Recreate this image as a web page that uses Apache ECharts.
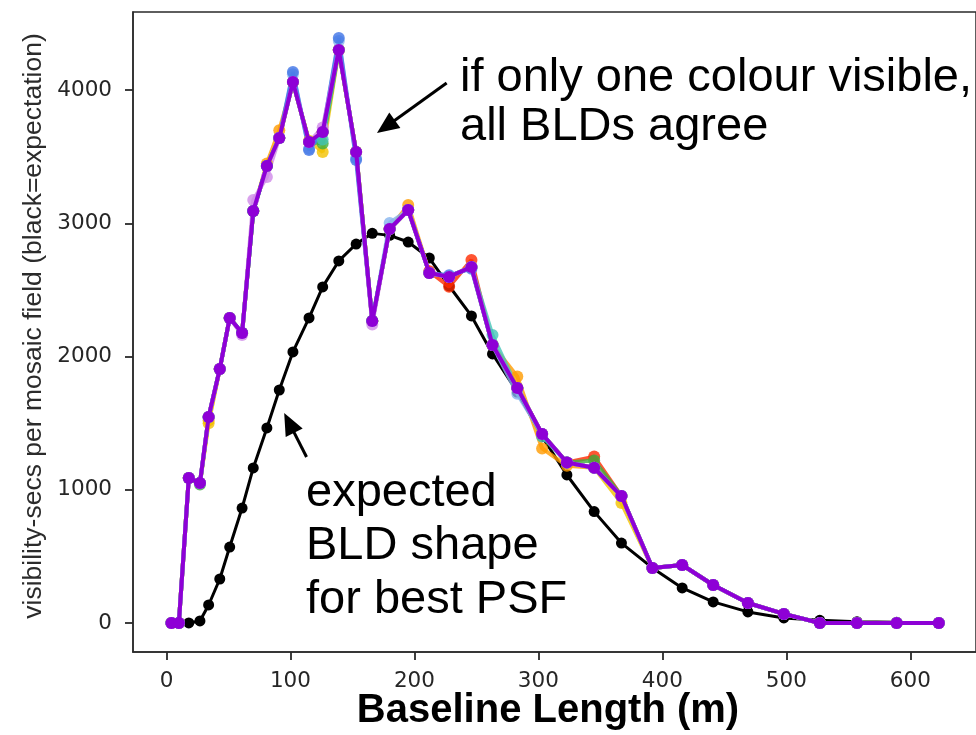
<!DOCTYPE html>
<html>
<head>
<meta charset="utf-8">
<script src="https://cdn.jsdelivr.net/npm/echarts@6/dist/echarts.min.js"></script>
<style>
  html, body { margin: 0; padding: 0; background: #ffffff; }
  #chart { width: 976px; height: 735px; }
</style>
</head>
<body>
<div id="chart"></div>
<script>
// Baseline-length bin centres (m)
const baselines = [4, 10, 18, 27, 34, 43, 51, 61, 70, 81, 91, 102, 115, 126, 139, 153, 166, 180, 195, 212,
  228, 246, 263, 283, 303, 323, 345, 367, 392, 416, 441, 469, 498, 527, 557, 589, 623];

// Expected baseline-length distribution for the best PSF
const expected = [0, 0, 0, 15, 135, 330, 570, 863, 1164, 1464, 1749, 2035, 2290, 2523, 2718, 2845, 2925, 2910, 2860, 2740,
  2530, 2305, 2020, 1734, 1400, 1111, 836, 600, 413, 263, 158, 83, 38, 20, 10, 5, 0];

// Measured distributions, one per BLD
const bldRed = [0, 0, 1089, 1051, 1547, 1907, 2290, 2177, 3093, 3431, 3641, 4062, 3611, 3686, 4302, 3536, 2267, 2958, 3100, 2640,
  2525, 2725, 2087, 1764, 1419, 1205, 1249, 953, 413, 435, 285, 150, 68, 0, 0, 0, 0];
const bldOrange = [0, 0, 1089, 1051, 1520, 1907, 2290, 2177, 3093, 3450, 3700, 4062, 3611, 3686, 4302, 3536, 2267, 2958, 3138, 2628,
  2598, 2673, 2087, 1850, 1310, 1180, 1165, 953, 413, 435, 285, 150, 68, 0, 0, 0, 0];
const bldGold = [0, 0, 1089, 1051, 1500, 1907, 2290, 2177, 3093, 3431, 3641, 4062, 3620, 3536, 4302, 3536, 2267, 2958, 3100, 2628,
  2598, 2673, 2087, 1764, 1419, 1205, 1165, 900, 413, 435, 285, 150, 68, 0, 0, 0, 0];
const bldGreen = [0, 0, 1089, 1040, 1547, 1907, 2290, 2177, 3093, 3431, 3641, 4062, 3611, 3600, 4302, 3536, 2267, 2958, 3100, 2628,
  2600, 2673, 2087, 1764, 1419, 1205, 1220, 953, 413, 435, 285, 150, 68, 0, 0, 0, 0];
const bldTeal = [0, 0, 1089, 1051, 1547, 1907, 2290, 2177, 3093, 3431, 3641, 4062, 3611, 3630, 4302, 3536, 2267, 2958, 3100, 2628,
  2598, 2673, 2162, 1764, 1400, 1205, 1165, 953, 413, 435, 285, 150, 68, 0, 0, 0, 0];
const bldLightBlue = [0, 0, 1089, 1051, 1547, 1907, 2290, 2177, 3093, 3431, 3641, 4120, 3560, 3686, 4370, 3490, 2267, 3003, 3100, 2628,
  2598, 2673, 2087, 1720, 1419, 1205, 1165, 953, 413, 435, 285, 150, 68, 0, 0, 0, 0];
const bldBlue = [0, 0, 1089, 1051, 1547, 1907, 2290, 2177, 3093, 3431, 3641, 4137, 3551, 3686, 4392, 3476, 2267, 2958, 3100, 2628,
  2610, 2660, 2087, 1764, 1419, 1205, 1165, 953, 413, 435, 285, 150, 68, 0, 0, 0, 0];
const bldViolet = [0, 0, 1089, 1051, 1547, 1907, 2290, 2162, 3175, 3348, 3641, 4062, 3611, 3720, 4302, 3536, 2240, 2958, 3100, 2628,
  2598, 2673, 2087, 1764, 1419, 1205, 1165, 953, 413, 435, 285, 150, 68, 0, 0, 0, 0];
const bldPurple = [0, 0, 1089, 1051, 1547, 1907, 2290, 2177, 3093, 3431, 3641, 4062, 3611, 3686, 4302, 3536, 2267, 2958, 3100, 2628,
  2598, 2673, 2087, 1764, 1419, 1205, 1165, 953, 413, 435, 285, 150, 68, 0, 0, 0, 0];

// Tick labels
const xTicks = [0, 100, 200, 300, 400, 500, 600];
const yTicks = [0, 1000, 2000, 3000, 4000];

// Annotation arrows: [tail, head centre] in data units
const arrowBLD = [[226, 4054], [177, 3726]];
const arrowExpected = [[113, 1246], [99, 1502]];

const pairs = (ys) => baselines.map((x, i) => [x, ys[i]]);

const measured = [
  { name: 'BLD red', color: '#ff2a00', data: bldRed },
  { name: 'BLD orange', color: '#ff9b00', data: bldOrange },
  { name: 'BLD gold', color: '#f2c200', data: bldGold },
  { name: 'BLD green', color: '#3fae3f', data: bldGreen },
  { name: 'BLD teal', color: '#45c4b8', data: bldTeal },
  { name: 'BLD light blue', color: '#86b4ee', data: bldLightBlue },
  { name: 'BLD blue', color: '#3f73e6', data: bldBlue },
  { name: 'BLD violet', color: '#d08ae8', data: bldViolet }
];

const series = [];
series.push({
  name: 'expected',
  type: 'line',
  data: pairs(expected),
  symbol: 'circle',
  symbolSize: 11,
  itemStyle: { color: '#000000' },
  lineStyle: { color: '#000000', width: 3 },
  z: 2,
  markLine: {
    silent: true,
    symbol: ['none', 'triangle'],
    symbolSize: [19, 22],
    label: { show: false },
    lineStyle: { color: '#000000', width: 3, type: 'solid' },
    itemStyle: { color: '#000000' },
    emphasis: { disabled: true },
    data: [
      [{ coord: arrowBLD[0] }, { coord: arrowBLD[1] }],
      [{ coord: arrowExpected[0] }, { coord: arrowExpected[1] }]
    ]
  }
});
measured.forEach((m) => {
  series.push({
    name: m.name,
    type: 'line',
    data: pairs(m.data),
    symbol: 'circle',
    symbolSize: 12,
    itemStyle: { color: m.color, opacity: 0.8 },
    lineStyle: { color: m.color, width: 4, opacity: 0.8 },
    z: 3
  });
});
series.push({
  name: 'BLD purple',
  type: 'line',
  data: pairs(bldPurple),
  symbol: 'circle',
  symbolSize: 12,
  itemStyle: { color: '#8e00d6' },
  lineStyle: { color: '#8e00d6', width: 4 },
  z: 4
});

const axisColor = '#2a2a2a';
const tickFont = { fontFamily: 'DejaVu Sans', fontSize: 21.5, color: '#262626', formatter: (v) => String(v) };

const chart = echarts.init(document.getElementById('chart'), null, { renderer: 'canvas' });
chart.setOption({
  animation: false,
  backgroundColor: '#ffffff',
  grid: {
    left: 133, top: 12, right: -11, bottom: 83,
    show: true, borderColor: axisColor, borderWidth: 1.5, backgroundColor: 'transparent'
  },
  xAxis: {
    type: 'value',
    min: -27, max: 653,
    axisLine: { show: true, onZero: false, lineStyle: { color: axisColor, width: 1.5 } },
    axisTick: { show: true, inside: false, length: 8, lineStyle: { color: axisColor, width: 1.8 }, customValues: xTicks },
    axisLabel: { show: true, margin: 18, customValues: xTicks, ...tickFont },
    splitLine: { show: false }
  },
  yAxis: {
    type: 'value',
    min: -218, max: 4587,
    axisLine: { show: true, onZero: false, lineStyle: { color: axisColor, width: 1.5 } },
    axisTick: { show: true, inside: false, length: 8, lineStyle: { color: axisColor, width: 1.8 }, customValues: yTicks },
    axisLabel: { show: true, margin: 21, customValues: yTicks, ...tickFont },
    splitLine: { show: false }
  },
  graphic: [
    {
      type: 'text', x: 548, y: 711, silent: true,
      style: {
        text: 'Baseline Length (m)', fill: '#000000',
        font: 'bold 40px "Liberation Sans", Arial, sans-serif',
        align: 'center', verticalAlign: 'middle'
      }
    },
    {
      type: 'text', x: 34, y: 326, rotation: Math.PI / 2, silent: true,
      style: {
        text: 'visibility-secs per mosaic field (black=expectation)', fill: '#2b2b2b',
        font: '26.5px "Liberation Sans", Arial, sans-serif',
        align: 'center', verticalAlign: 'middle'
      }
    },
    {
      type: 'text', x: 460, y: 54, silent: true,
      style: {
        text: 'if only one colour visible,\nall BLDs agree', fill: '#000000',
        font: '47px "Liberation Sans", Arial, sans-serif', lineHeight: 49,
        align: 'left', verticalAlign: 'top'
      }
    },
    {
      type: 'text', x: 306, y: 466, silent: true,
      style: {
        text: 'expected\nBLD shape\nfor best PSF', fill: '#000000',
        font: '47px "Liberation Sans", Arial, sans-serif', lineHeight: 53.5,
        align: 'left', verticalAlign: 'top'
      }
    }
  ],
  series: series
});
</script>
</body>
</html>
